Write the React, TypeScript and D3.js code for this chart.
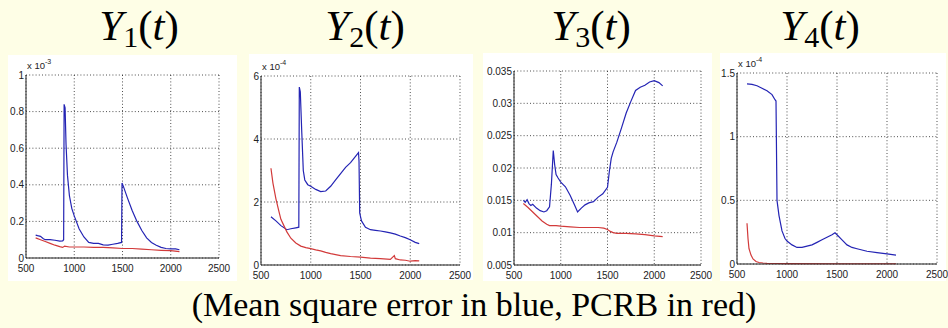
import React from 'react';
import * as d3 from 'd3';

// page size
const W = 948;
const H = 328;

// shared x axis
const xDomain = [500, 2500];
const xTicks = [500, 1000, 1500, 2000, 2500];

// Y1(t), values in units of 1e-3
const y1Ticks = [0, 0.2, 0.4, 0.6, 0.8, 1];
const y1MseT = [600, 620, 650, 680, 700, 750, 800, 850, 880, 890, 895, 905, 915, 930, 950, 975, 1000, 1050, 1100, 1150, 1200, 1250, 1300, 1350, 1400, 1450, 1490, 1495, 1510, 1550, 1600, 1650, 1700, 1750, 1800, 1850, 1900, 1950, 2000, 2050, 2090];
const y1Mse = [0.125, 0.122, 0.118, 0.105, 0.1, 0.1, 0.097, 0.092, 0.093, 0.1, 0.84, 0.82, 0.62, 0.45, 0.34, 0.27, 0.23, 0.16, 0.115, 0.085, 0.08, 0.08, 0.072, 0.07, 0.075, 0.08, 0.085, 0.41, 0.39, 0.33, 0.26, 0.2, 0.15, 0.11, 0.085, 0.07, 0.058, 0.052, 0.05, 0.05, 0.045];
const y1PcrbT = [600, 650, 700, 750, 800, 850, 880, 900, 950, 1000, 1100, 1200, 1300, 1400, 1500, 1600, 1700, 1800, 1900, 2000, 2090];
const y1Pcrb = [0.11, 0.1, 0.09, 0.08, 0.07, 0.062, 0.058, 0.065, 0.06, 0.06, 0.06, 0.058, 0.058, 0.055, 0.052, 0.052, 0.048, 0.045, 0.042, 0.04, 0.035];

// Y2(t), values in units of 1e-4
const y2Ticks = [0, 2, 4, 6];
const y2MseT = [600, 650, 700, 760, 800, 850, 880, 885, 895, 910, 925, 940, 970, 1000, 1050, 1100, 1150, 1200, 1250, 1300, 1350, 1400, 1450, 1480, 1485, 1492, 1510, 1550, 1600, 1650, 1700, 1750, 1800, 1850, 1900, 1950, 2000, 2050, 2090];
const y2Mse = [1.53, 1.4, 1.25, 1.12, 1.15, 1.18, 1.2, 5.65, 5.5, 4.2, 3.0, 2.7, 2.55, 2.5, 2.4, 2.33, 2.35, 2.5, 2.7, 2.9, 3.1, 3.25, 3.45, 3.57, 3.3, 1.65, 1.4, 1.2, 1.12, 1.1, 1.08, 1.05, 1.02, 0.98, 0.92, 0.87, 0.8, 0.72, 0.68];
const y2PcrbT = [600, 620, 650, 680, 700, 730, 760, 800, 850, 900, 950, 1000, 1050, 1100, 1150, 1200, 1300, 1400, 1500, 1600, 1700, 1800, 1840, 1850, 1900, 1950, 2000, 2050, 2090];
const y2Pcrb = [3.07, 2.6, 2.1, 1.7, 1.45, 1.25, 1.05, 0.85, 0.7, 0.6, 0.55, 0.52, 0.48, 0.45, 0.4, 0.36, 0.3, 0.27, 0.25, 0.22, 0.2, 0.18, 0.3, 0.2, 0.16, 0.15, 0.12, 0.14, 0.13];

// Y3(t), raw values
const y3Ticks = [0.005, 0.01, 0.015, 0.02, 0.025, 0.03, 0.035];
const y3MseT = [600, 620, 640, 660, 680, 700, 740, 780, 820, 850, 880, 900, 920, 935, 950, 970, 1000, 1050, 1100, 1150, 1180, 1220, 1260, 1300, 1350, 1400, 1450, 1500, 1520, 1540, 1560, 1600, 1650, 1700, 1750, 1800, 1850, 1900, 1950, 2000, 2050, 2090];
const y3Mse = [0.015, 0.0147, 0.0151, 0.0145, 0.0142, 0.0144, 0.0138, 0.0134, 0.0132, 0.0134, 0.014, 0.0175, 0.0227, 0.0205, 0.019, 0.0185, 0.0178, 0.0171, 0.0158, 0.0142, 0.0132, 0.0138, 0.0143, 0.0146, 0.0148, 0.0155, 0.016, 0.017, 0.0195, 0.0215, 0.0225, 0.024, 0.0262, 0.0285, 0.0303, 0.032, 0.0325, 0.0328, 0.0333, 0.0335, 0.0332, 0.0327];
const y3PcrbT = [600, 650, 700, 750, 800, 850, 880, 950, 1000, 1100, 1200, 1300, 1400, 1460, 1500, 1530, 1560, 1600, 1700, 1800, 1900, 2000, 2090];
const y3Pcrb = [0.0145, 0.0139, 0.0132, 0.0125, 0.0118, 0.0113, 0.0111, 0.0111, 0.011, 0.0109, 0.0108, 0.0108, 0.0108, 0.0107, 0.0105, 0.0102, 0.01, 0.0099, 0.0099, 0.0098, 0.0097, 0.0095, 0.0094];

// Y4(t), values in units of 1e-4
const y4Ticks = [0, 0.5, 1, 1.5];
const y4MseT = [600, 650, 700, 750, 800, 850, 880, 890, 900, 920, 950, 980, 1000, 1050, 1100, 1150, 1200, 1250, 1300, 1350, 1400, 1450, 1480, 1500, 1550, 1600, 1650, 1700, 1750, 1800, 1900, 2000, 2090];
const y4Mse = [1.415, 1.41, 1.4, 1.38, 1.36, 1.33, 1.29, 1.28, 0.5, 0.38, 0.26, 0.2, 0.18, 0.15, 0.13, 0.13, 0.14, 0.15, 0.17, 0.19, 0.21, 0.23, 0.245, 0.23, 0.19, 0.15, 0.13, 0.12, 0.11, 0.1, 0.09, 0.08, 0.07];
const y4PcrbT = [600, 610, 620, 640, 660, 690, 720, 760, 800, 900, 1000, 1500, 2000, 2090];
const y4Pcrb = [0.32, 0.2, 0.12, 0.07, 0.04, 0.02, 0.012, 0.008, 0.005, 0.004, 0.003, 0.002, 0.002, 0.002];

const titleSubs = ['1', '2', '3', '4'];
const exponents = ['-3', '-4', '', '-4'];
const caption = '(Mean square error in blue, PCRB in red)';

const BG = '#fefee6';
const BLUE = '#2424b4';
const RED = '#d23a3a';

// layout of each panel: white card, then plot area inside it
const layout = [
  { card: [8, 55, 237, 281], plot: [26, 75, 219, 258], titleX: 139 },
  { card: [249, 54, 473, 280], plot: [261, 76, 460, 265], titleX: 365 },
  { card: [483, 53, 712, 281], plot: [514, 71, 701, 265], titleX: 591 },
  { card: [720, 53, 946, 281], plot: [737, 73, 937, 264], titleX: 820 },
];

const panels = [
  { yTicks: y1Ticks, mse: [y1MseT, y1Mse], pcrb: [y1PcrbT, y1Pcrb] },
  { yTicks: y2Ticks, mse: [y2MseT, y2Mse], pcrb: [y2PcrbT, y2Pcrb] },
  { yTicks: y3Ticks, mse: [y3MseT, y3Mse], pcrb: [y3PcrbT, y3Pcrb] },
  { yTicks: y4Ticks, mse: [y4MseT, y4Mse], pcrb: [y4PcrbT, y4Pcrb] },
];

const tickFont = 'Liberation Sans, Arial, sans-serif';

function Panel({ idx }: { idx: number }) {
  const { card, plot, titleX } = layout[idx];
  const { yTicks, mse, pcrb } = panels[idx];
  const [l, t, r, b] = plot;

  const x = d3.scaleLinear().domain(xDomain).range([l, r]);
  const y = d3.scaleLinear().domain(d3.extent(yTicks) as [number, number]).range([b, t]);

  const line = d3.line<[number, number]>().x(d => x(d[0])).y(d => y(d[1]));
  const toPts = (s: number[][]) => s[0].map((tv, i) => [tv, s[1][i]] as [number, number]);

  const exp = exponents[idx];

  return (
    <g>
      <rect x={card[0]} y={card[1]} width={card[2] - card[0]} height={card[3] - card[1]} fill="#ffffff" />

      {/* title */}
      <text x={titleX} y={40} textAnchor="middle" fontFamily="Liberation Serif, serif" fontSize={43} fill="#000">
        <tspan fontStyle="italic">Y</tspan>
        <tspan fontSize={30} dy={7}>{titleSubs[idx]}</tspan>
        <tspan dy={-7}>(</tspan>
        <tspan fontStyle="italic">t</tspan>
        <tspan>)</tspan>
      </text>

      {/* dotted grid */}
      {xTicks.map(v => (
        <line key={'gx' + v} x1={x(v)} x2={x(v)} y1={t} y2={b} stroke="#222" strokeWidth={0.8} strokeDasharray="1 2.2" />
      ))}
      {yTicks.map(v => (
        <line key={'gy' + v} x1={l} x2={r} y1={y(v)} y2={y(v)} stroke="#222" strokeWidth={0.8} strokeDasharray="1 2.2" />
      ))}

      {/* curves */}
      <path d={line(toPts(mse)) || ''} fill="none" stroke={BLUE} strokeWidth={1.2} />
      <path d={line(toPts(pcrb)) || ''} fill="none" stroke={RED} strokeWidth={1.2} />

      {/* axes */}
      <line x1={l} x2={l} y1={t} y2={b} stroke="#222" strokeWidth={1} />
      <line x1={l} x2={r} y1={b} y2={b} stroke="#222" strokeWidth={1} />

      {/* tick labels */}
      {xTicks.map(v => (
        <text key={'tx' + v} x={x(v)} y={b + 14} textAnchor="middle" fontFamily={tickFont} fontSize={10} fill="#222">
          {v}
        </text>
      ))}
      {yTicks.map(v => (
        <text key={'ty' + v} x={l - 2} y={y(v) + 3.5} textAnchor="end" fontFamily={tickFont} fontSize={10} fill="#222">
          {String(v)}
        </text>
      ))}

      {exp && (
        <text x={l + 1} y={t - 6} fontFamily={tickFont} fontSize={9.5} fill="#222">
          x 10
          <tspan fontSize={7} dy={-5}>{exp}</tspan>
        </text>
      )}
    </g>
  );
}

export default function App() {
  return (
    <svg width={W} height={H} style={{ position: 'absolute', left: 0, top: 0 }}>
      <rect x={0} y={0} width={W} height={H} fill={BG} />
      {panels.map((_, i) => (
        <Panel key={i} idx={i} />
      ))}
      <text x={474} y={316} textAnchor="middle" fontFamily="Liberation Serif, serif" fontSize={34} fill="#000">
        {caption}
      </text>
    </svg>
  );
}
